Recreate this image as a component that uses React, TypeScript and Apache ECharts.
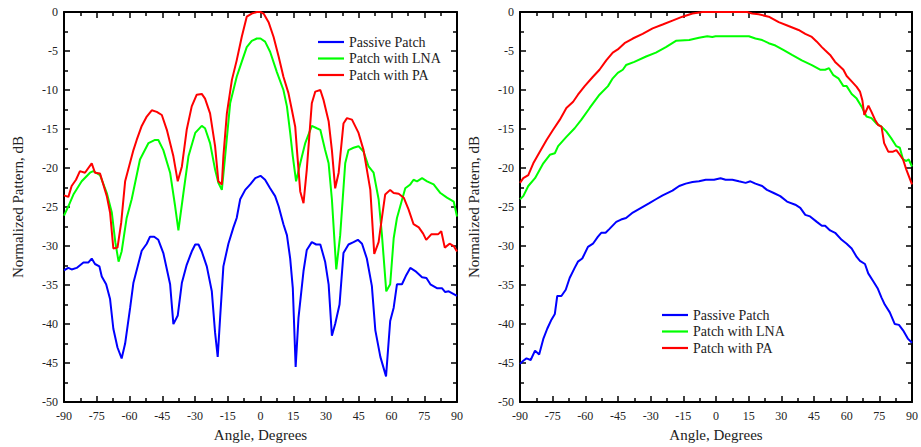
import React, { useEffect, useRef } from "react";
import * as echarts from "echarts";

// Series names and colours
const seriesNames = ["Passive Patch", "Patch with LNA", "Patch with PA"];
const seriesColors = ["#0000ff", "#00ff00", "#ff0000"];

// Axis ticks
const angleTicks = [-90, -75, -60, -45, -30, -15, 0, 15, 30, 45, 60, 75, 90];
const dbTicks = [-50, -45, -40, -35, -30, -25, -20, -15, -10, -5, 0];

// Left chart: [angle (deg), normalized pattern (dB)]
const leftPassive: number[][] = [
  [-90, -33.1], [-88, -32.8], [-86.5, -33], [-84.2, -32.8], [-81.1, -32.1], [-78.8, -32.1], [-77.3, -31.6],
  [-75.8, -32.3], [-73.8, -32.6], [-72.7, -33.9], [-70.7, -34.9], [-68.9, -36.8], [-67.4, -40.6], [-65.5, -43],
  [-63.6, -44.4], [-62, -42.5], [-59.7, -37.9], [-58.2, -34.7], [-54.4, -30.6], [-52.1, -29.7], [-50.6, -28.8],
  [-48.7, -28.8], [-46.8, -29.2], [-44.5, -30.9], [-41.4, -34.9], [-39.9, -40], [-37.9, -38.9], [-36, -34.7],
  [-33.8, -32.4], [-31.5, -30.7], [-29.9, -29.8], [-28.4, -29.8], [-26.9, -30.7], [-24.6, -32.6], [-22.3, -35.8],
  [-20.8, -41.1], [-19.6, -44.2], [-18.5, -39.2], [-17, -32.6], [-14.7, -29.7], [-12.4, -27.6], [-10.9, -26.4],
  [-9.3, -24], [-7, -22.8], [-4.7, -22.1], [-2.4, -21.3], [0, -21], [2.1, -21.5], [4.4, -22.6], [6.7, -23.6],
  [8.3, -24.9], [10.5, -27.2], [12.1, -28.6], [13.6, -31.6], [14.8, -35.4], [16.1, -45.5], [17.4, -39.2],
  [19.7, -33.2], [21.2, -30.5], [23.5, -29.5], [25.5, -29.8], [27.4, -29.8], [29.6, -32], [31.2, -34.9],
  [32.7, -41.5], [34.2, -40], [36.2, -37.5], [38, -30.9], [40.3, -29.8], [42.6, -29.5], [44.6, -29.2],
  [46.5, -29.7], [48.7, -31.6], [51, -35.1], [52.6, -40.8], [54.9, -44.2], [57.5, -46.7], [59.4, -39.6],
  [61, -37.9], [62.5, -34.9], [64.8, -34.9], [66.8, -33.7], [68.6, -32.8], [70.9, -33.2], [74, -34],
  [76, -34.1], [77.8, -34.9], [80.8, -35.4], [83.1, -35.4], [84.6, -35.9], [86.2, -35.8], [90, -36.4]
];
const leftLna: number[][] = [
  [-90, -26.1], [-88, -24.9], [-85.7, -23.4], [-81.9, -21.7], [-78.1, -20.6], [-76.6, -20.4], [-73.5, -20.9],
  [-70.4, -23.2], [-68.1, -25.7], [-66.5, -29.5], [-65, -32], [-63.6, -30.7], [-61.3, -26.4], [-59, -24],
  [-55.2, -18.9], [-51.3, -16.8], [-48.3, -16.4], [-46.8, -16.4], [-44.5, -17.7], [-41.4, -20.6], [-39.1, -24.9],
  [-37.6, -28], [-35.3, -23.2], [-33, -18.5], [-29.9, -15.5], [-26.9, -14.6], [-25.4, -14.9], [-23.1, -16.8],
  [-20.8, -20.2], [-19.3, -21.9], [-17.7, -22.8], [-16.2, -18.5], [-13.9, -11.7], [-10.9, -8.3], [-8.6, -6.4],
  [-6.3, -4.5], [-4, -3.7], [-1.7, -3.4], [0, -3.4], [2.1, -3.8], [4.4, -5.1], [7.5, -7.7], [10.5, -10],
  [12.1, -12.1], [13.6, -15.5], [14.8, -18.5], [16.3, -21.7], [18.2, -19.4], [20.5, -16.8], [23.5, -14.6],
  [25.8, -14.9], [27.4, -15.1], [29.6, -17.7], [31.2, -19.4], [32.7, -24], [34.7, -33], [36.5, -28.6],
  [38.8, -19.4], [40.3, -17.7], [42.6, -17.4], [44.9, -17.2], [47.2, -17.9], [49.5, -19.8], [51.8, -20.6],
  [54.1, -24], [55.6, -28.5], [57.6, -35.8], [59.4, -34.9], [61, -29], [62.5, -26.4], [64, -24.9], [66.3, -22.6],
  [68.6, -22.1], [70.1, -21.5], [71.7, -21.7], [74, -21.3], [76.3, -21.7], [79.3, -22.1], [82.4, -23.2],
  [85.4, -23.8], [88.5, -24.3], [90, -26.2]
];
const leftPa: number[][] = [
  [-90, -23.5], [-88, -23.7], [-86.5, -22.3], [-84.5, -21.5], [-82.7, -20.4], [-80.4, -20.6], [-77.3, -19.4],
  [-75.8, -20.6], [-73.5, -20.7], [-70.4, -23.6], [-68.9, -25.7], [-67.4, -30.3], [-65.5, -30.2], [-63.8, -27],
  [-62, -21.7], [-58.2, -17.7], [-56.7, -16.4], [-54.4, -14.6], [-52.1, -13.4], [-49.8, -12.6], [-47.5, -12.8],
  [-45.2, -13.2], [-42.9, -15.1], [-39.9, -18.5], [-37.9, -21.7], [-36, -19.8], [-33.8, -15.1], [-31.5, -12.1],
  [-29.2, -10.6], [-26.9, -10.5], [-25.4, -11.1], [-23.1, -13], [-20.8, -17.2], [-19.3, -21.7], [-17.7, -22.1],
  [-17, -18.5], [-15.4, -13], [-13.1, -8.7], [-10.9, -6.2], [-8.6, -3.2], [-6.3, -0.6], [-4, -0.2], [-1.7, 0],
  [0, 0], [1.4, -0.2], [3.7, -1.3], [6, -3.2], [8.3, -5.7], [10.5, -8.3], [12.8, -10.4], [14.4, -12.6],
  [15.9, -14.7], [16.7, -17.7], [18.2, -23], [19.7, -24.5], [21.2, -20.2], [23.5, -11.7], [25.1, -10.2],
  [27.4, -10], [28.9, -11.3], [31.2, -14], [32.7, -17.7], [34.2, -22.6], [35.8, -20.6], [38, -14.3],
  [39.6, -13.6], [41.9, -13.8], [44.9, -15.5], [47.2, -17.7], [50.3, -22.8], [52.1, -31], [54.1, -29.5],
  [55.6, -26.4], [57.1, -23.4], [59.4, -22.8], [61, -23.2], [63.3, -23.3], [65.6, -23.8], [67.8, -25.3],
  [70.1, -27.2], [72.5, -27.6], [74.5, -28.4], [75.9, -29.2], [78.2, -28.5], [81.3, -28.5], [82.8, -28.1],
  [84.4, -30.2], [86.6, -29.7], [88.5, -30], [90, -30.7]
];

// Right chart: [angle (deg), normalized pattern (dB)]
const rightPassive: number[][] = [
  [-90, -45.1], [-88.5, -44.7], [-87, -44.4], [-85.1, -44.6], [-83.1, -43.4], [-81.2, -43.9], [-79.3, -41.9],
  [-77.5, -40.6], [-75.5, -39.4], [-74, -38.7], [-72.9, -36.4], [-71, -36.4], [-69, -35.6], [-67.2, -34.1],
  [-64.9, -32.8], [-63.4, -32], [-61.4, -31.6], [-58.8, -30.1], [-56.5, -29.7], [-54.2, -28.8], [-52.7, -28.3],
  [-50.7, -28.3], [-48.9, -27.8], [-45.8, -26.9], [-43.6, -26.6], [-41.3, -26.4], [-38.2, -25.7], [-34.4, -25.1],
  [-30.6, -24.5], [-27.6, -24], [-24.5, -23.5], [-20, -22.9], [-16.9, -22.3], [-13.9, -22], [-10.8, -21.8],
  [-7.8, -21.7], [-4.7, -21.5], [-0.9, -21.5], [2.1, -21.3], [4.4, -21.5], [7.5, -21.5], [10.5, -21.7],
  [13.6, -21.9], [15.8, -21.7], [18.1, -22], [21.2, -22.3], [23.4, -22.8], [26.5, -23.2], [29.5, -23.6],
  [32.6, -24.3], [36.4, -24.7], [38.7, -25.1], [41, -26], [43.2, -26.2], [46.3, -26.9], [48.6, -27.4],
  [50.1, -27.4], [52.4, -28], [54.7, -28.3], [57.7, -29.2], [60, -29.7], [62.3, -30.3], [64.6, -31.4],
  [66.1, -31.9], [68.4, -32.3], [69.9, -33.5], [72.2, -34.5], [74.2, -35.4], [76, -36.6], [77.5, -37.5],
  [79.8, -38.5], [82.1, -40], [84, -40.1], [85.9, -40.8], [88.2, -41.9], [90, -42.4]
];
const rightLna: number[][] = [
  [-90, -24], [-88.5, -23.6], [-86.2, -22.3], [-83.1, -21.3], [-79.3, -19.4], [-76.3, -18.3], [-74, -18.1],
  [-72.5, -17.2], [-68.7, -16], [-64.9, -14.9], [-61.8, -13.8], [-58, -12.3], [-53.5, -10.6], [-49.6, -9.5],
  [-47.4, -8.5], [-45.1, -7.8], [-42.8, -7.4], [-41.3, -6.8], [-37.5, -6.4], [-32.1, -5.7], [-27.6, -5.2],
  [-23, -4.5], [-18.4, -3.7], [-12.3, -3.6], [-7.8, -3.3], [-4, -3.1], [-1.7, -3.2], [-0.2, -3.1], [4.4, -3.1],
  [15.1, -3.1], [18.1, -3.4], [21.2, -3.6], [24.2, -4], [27.3, -4.3], [31.1, -4.9], [34.9, -5.5], [39.4, -6.2],
  [44, -6.8], [47.8, -7.4], [50.1, -7.4], [51.9, -7.2], [53.9, -8.1], [56.2, -8.5], [58.5, -9.5], [60, -9.5],
  [62.3, -10.5], [64.6, -11.1], [66.8, -12.1], [69.1, -13.4], [71.4, -13.6], [73.7, -14.3], [76, -14.7],
  [78.2, -15.3], [80.5, -16.2], [82.8, -17.2], [84.4, -17.4], [85.9, -18.9], [87.4, -19.1], [88.5, -18.9],
  [90, -19.8]
];
const rightPa: number[][] = [
  [-90, -21.9], [-88.5, -21.3], [-86.2, -20.9], [-83.9, -19.4], [-80.9, -17.9], [-77.8, -16.4], [-74.8, -15.1],
  [-71.7, -13.8], [-68.7, -12.3], [-65.6, -11.5], [-63.4, -10.6], [-60.3, -9.5], [-56.5, -8.3], [-53.5, -7.4],
  [-50.4, -6.2], [-47.4, -5.2], [-45.1, -4.8], [-42, -4], [-38.2, -3.4], [-33.7, -2.8], [-29.1, -2.1],
  [-24.5, -1.6], [-20, -1.1], [-15.4, -0.6], [-10.8, -0.2], [-6.2, 0], [14.3, 0], [16.6, -0.2], [19.6, -0.3],
  [24.2, -0.6], [28.8, -1.3], [33.3, -1.8], [37.9, -2.3], [41, -2.8], [44, -3.2], [46.3, -3.8], [48.6, -4.5],
  [50.1, -4.9], [52.4, -5.5], [54.7, -6.4], [56.2, -6.8], [58.5, -7.4], [60, -8.2], [62.3, -8.9], [64.6, -9.6],
  [66.1, -10.2], [67.2, -11.3], [68.1, -13.2], [70, -12], [71.4, -12.8], [73, -13.8], [74.5, -14.5], [76, -14.7],
  [77.2, -16.8], [79.1, -17.9], [81.3, -17.9], [82.8, -17.7], [84.4, -18.3], [85.9, -18.9], [87.4, -20.2],
  [90, -22.1]
];

const FONT = "Liberation Serif";
const TEXT = "#222";
const LEGEND_ICON = "path://M0,0 L26,0 L26,2.2 L0,2.2 Z";

function buildOption() {
  const grids = [
    { left: 64, top: 12, width: 393, height: 394 },
    { left: 520, top: 12, width: 394, height: 394 }
  ];
  const xAxes: any[] = [];
  const yAxes: any[] = [];
  const tickStyle = { color: "#000", width: 1.5 };
  grids.forEach((_, gi) => {
    xAxes.push({
      gridIndex: gi,
      type: "value",
      min: angleTicks[0],
      max: angleTicks[angleTicks.length - 1],
      interval: angleTicks[1] - angleTicks[0],
      position: "bottom",
      name: "Angle, Degrees",
      nameLocation: "middle",
      nameGap: 21,
      nameTextStyle: { fontFamily: FONT, fontSize: 15, color: TEXT },
      axisLine: { show: true, onZero: false, lineStyle: { color: "#000", width: 2 } },
      axisTick: { show: true, inside: true, length: 6, lineStyle: tickStyle },
      minorTick: { show: true, splitNumber: 2, length: 4, lineStyle: tickStyle },
      axisLabel: { fontFamily: FONT, fontSize: 12, color: TEXT, margin: 8, showMinLabel: true, showMaxLabel: true },
      splitLine: { show: false }
    });
    xAxes.push({
      gridIndex: gi,
      type: "value",
      min: angleTicks[0],
      max: angleTicks[angleTicks.length - 1],
      interval: angleTicks[1] - angleTicks[0],
      position: "top",
      axisLine: { show: true, onZero: false, lineStyle: { color: "#000", width: 2 } },
      axisTick: { show: true, inside: true, length: 6, lineStyle: tickStyle },
      minorTick: { show: true, splitNumber: 2, length: 4, lineStyle: tickStyle },
      axisLabel: { show: false },
      splitLine: { show: false }
    });
    yAxes.push({
      gridIndex: gi,
      type: "value",
      min: dbTicks[0],
      max: dbTicks[dbTicks.length - 1],
      interval: dbTicks[1] - dbTicks[0],
      position: "left",
      name: "Normalized Pattern, dB",
      nameLocation: "middle",
      nameGap: 39,
      nameTextStyle: { fontFamily: FONT, fontSize: 15, color: TEXT },
      axisLine: { show: true, onZero: false, lineStyle: { color: "#000", width: 2 } },
      axisTick: { show: true, inside: true, length: 6, lineStyle: tickStyle },
      minorTick: { show: true, splitNumber: 2, length: 4, lineStyle: tickStyle },
      axisLabel: { fontFamily: FONT, fontSize: 12, color: TEXT, margin: 6 },
      splitLine: { show: false }
    });
    yAxes.push({
      gridIndex: gi,
      type: "value",
      min: dbTicks[0],
      max: dbTicks[dbTicks.length - 1],
      interval: dbTicks[1] - dbTicks[0],
      position: "right",
      axisLine: { show: true, onZero: false, lineStyle: { color: "#000", width: 2 } },
      axisTick: { show: true, inside: true, length: 6, lineStyle: tickStyle },
      minorTick: { show: true, splitNumber: 2, length: 4, lineStyle: tickStyle },
      axisLabel: { show: false },
      splitLine: { show: false }
    });
  });

  const datasets = [
    [leftPassive, leftLna, leftPa],
    [rightPassive, rightLna, rightPa]
  ];
  const series: any[] = [];
  datasets.forEach((group, gi) => {
    group.forEach((data, si) => {
      series.push({
        type: "line",
        name: seriesNames[si],
        xAxisIndex: gi * 2,
        yAxisIndex: gi * 2,
        data,
        symbol: "none",
        smooth: false,
        color: seriesColors[si],
        lineStyle: { color: seriesColors[si], width: 2 },
        z: 3 + si
      });
    });
  });

  const legendBase = {
    orient: "vertical",
    data: seriesNames.map((name) => ({ name, icon: LEGEND_ICON })),
    itemWidth: 26,
    itemHeight: 14,
    itemGap: 2.5,
    symbolKeepAspect: true,
    selectedMode: false,
    textStyle: { fontFamily: FONT, fontSize: 14, color: TEXT, lineHeight: 14 }
  };

  return {
    animation: false,
    backgroundColor: "#fff",
    grid: grids,
    xAxis: xAxes,
    yAxis: yAxes,
    legend: [
      { ...legendBase, left: 313, top: 30 },
      { ...legendBase, left: 657, top: 303 }
    ],
    series
  };
}

export default function App() {
  const ref = useRef<HTMLDivElement>(null);
  useEffect(() => {
    if (!ref.current) return;
    const chart = echarts.init(ref.current, undefined, { renderer: "svg" });
    chart.setOption(buildOption() as any);
    return () => chart.dispose();
  }, []);
  return (
    <div
      ref={ref}
      style={{ position: "fixed", left: 0, top: 0, width: 921, height: 447, background: "#fff" }}
    />
  );
}
